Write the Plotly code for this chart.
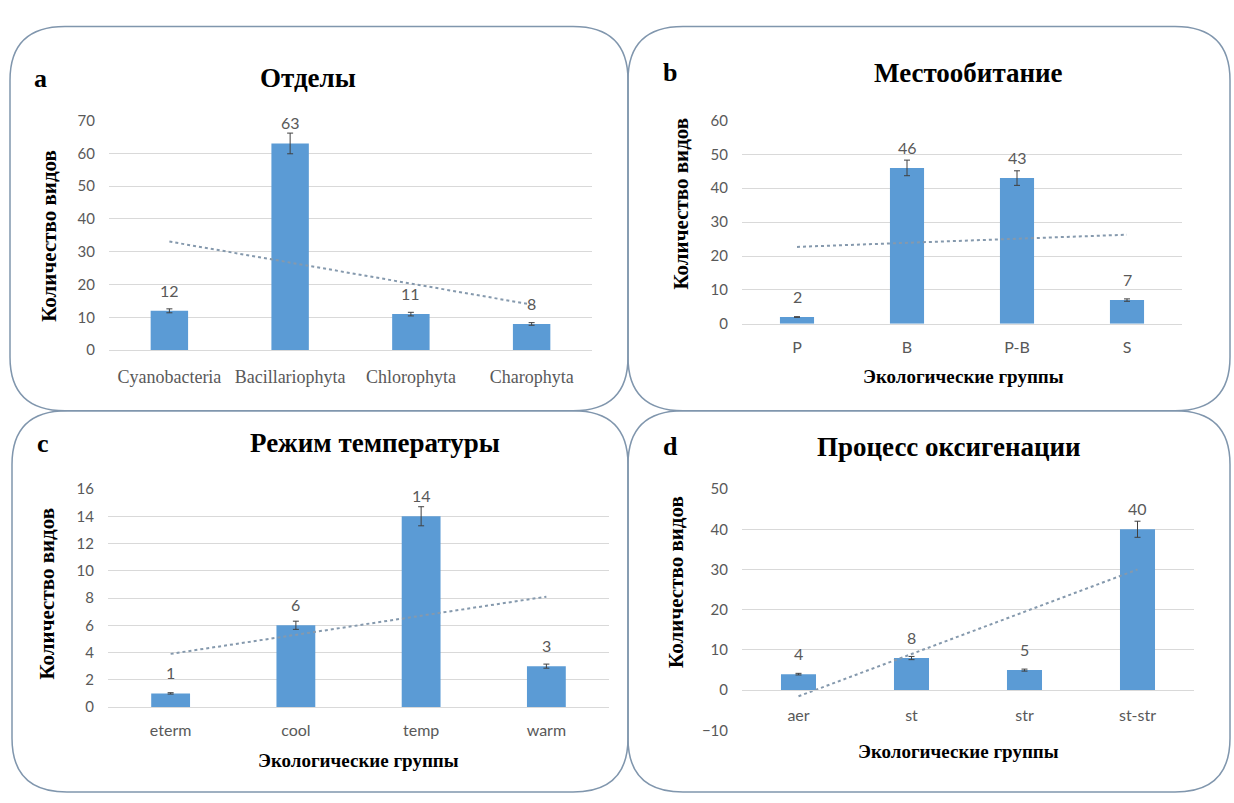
import numpy as np
import plotly.graph_objects as go

# ---------------- data ----------------
cats_a = ["Cyanobacteria", "Bacillariophyta", "Chlorophyta", "Charophyta"]
vals_a = [12, 63, 11, 8]
cats_b = ["P", "B", "P-B", "S"]
vals_b = [2, 46, 43, 7]
cats_c = ["eterm", "cool", "temp", "warm"]
vals_c = [1, 6, 14, 3]
cats_d = ["aer", "st", "str", "st-str"]
vals_d = [4, 8, 5, 40]

titles = ["Отделы", "Местообитание", "Режим температуры", "Процесс оксигенации"]
letters = ["a", "b", "c", "d"]
ytitle = "Количество видов"
xtitle = "Экологические группы"

yticks_a = [0, 10, 20, 30, 40, 50, 60, 70]
yticks_b = [0, 10, 20, 30, 40, 50, 60]
yticks_c = [0, 2, 4, 6, 8, 10, 12, 14, 16]
yticks_d = [-10, 0, 10, 20, 30, 40, 50]
error_percent = 5

# ---------------- geometry helpers ----------------
W, H = 1234, 803
def X(px):
    return px / W
def Y(py):
    return 1 - py / H

BAR = "#5b9bd5"
GRID = "#d9d9d9"
GRAY = "#595959"
SERIF = "Liberation Serif"
SANS = "Lato"

panels = [
    dict(cats=cats_a, vals=vals_a, ticks=yticks_a, px=(109, 592), py=(113, 348),
         box=(10, 17, 628, 410), title_xy=(308, 70), letter_xy=(40, 70),
         ytitle_xy=(49, 231), xtitle_xy=None, xfont=dict(family=SERIF, size=18, color=GRAY),
         xstand=10),
    dict(cats=cats_b, vals=vals_b, ticks=yticks_b, px=(742, 1182), py=(113, 321),
         box=(628, 17, 1230, 410), title_xy=(968, 64), letter_xy=(670, 64),
         ytitle_xy=(681, 198), xtitle_xy=(963, 375), xfont=dict(family=SANS, size=16, color=GRAY),
         xstand=9),
    dict(cats=cats_c, vals=vals_c, ticks=yticks_c, px=(108, 609), py=(490, 713),
         box=(12, 410, 628, 800), title_xy=(375, 443), letter_xy=(43, 443),
         ytitle_xy=(47, 597), xtitle_xy=(358, 768), xfont=dict(family=SANS, size=16, color=GRAY),
         xstand=9),
    dict(cats=cats_d, vals=vals_d, ticks=yticks_d, px=(742, 1194), py=(490, 737),
         box=(628, 410, 1230, 800), title_xy=(949, 447), letter_xy=(670, 447),
         ytitle_xy=(676, 585), xtitle_xy=(958, 758), xfont=dict(family=SANS, size=16, color=GRAY),
         xstand=11),
]

fig = go.Figure()
layout = dict(width=W, height=H, margin=dict(l=0, r=0, t=0, b=0),
              paper_bgcolor="white", plot_bgcolor="white", showlegend=False,
              bargap=0.68)
annotations = []
shapes = []

def rounded_rect(x0, y0, x1, y1, r=55):
    rx, ry = r / W, r / H
    a0, a1 = X(x0), X(x1)
    b0, b1 = Y(y1), Y(y0)  # bottom, top in paper
    return (f"M {a0+rx},{b1} L {a1-rx},{b1} Q {a1},{b1} {a1},{b1-ry} "
            f"L {a1},{b0+ry} Q {a1},{b0} {a1-rx},{b0} "
            f"L {a0+rx},{b0} Q {a0},{b0} {a0},{b0+ry} "
            f"L {a0},{b1-ry} Q {a0},{b1} {a0+rx},{b1} Z")

for i, p in enumerate(panels, start=1):
    sfx = "" if i == 1 else str(i)
    xa, ya = "x" + sfx, "y" + sfx
    cats, vals = p["cats"], p["vals"]
    idx = np.arange(len(vals))
    coef = np.polyfit(idx, vals, 1)
    trend = np.polyval(coef, idx)

    fig.add_trace(go.Bar(x=cats, y=vals, xaxis=xa, yaxis=ya, marker_color=BAR,
                         marker_line_width=0, width=0.31,
                         error_y=dict(type="percent", value=error_percent,
                                      color="#404040", thickness=1, width=3),
                         hoverinfo="x+y"))
    fig.add_trace(go.Scatter(x=cats, y=trend, xaxis=xa, yaxis=ya, mode="lines",
                             line=dict(color="#8599ad", dash="dot", width=2),
                             hoverinfo="skip"))

    ymin, ymax = p["ticks"][0], p["ticks"][-1]
    xdict = dict(domain=[X(p["px"][0]), X(p["px"][1])], type="category",
                 range=[-0.5, len(cats) - 0.5], showgrid=False, showline=True,
                 linecolor=GRID, linewidth=1, ticks="", tickfont=p["xfont"],
                 ticklabelstandoff=p["xstand"], fixedrange=True)
    if ymin < 0:
        xdict.update(anchor="free", position=Y(p["py"][0] + (p["py"][1] - p["py"][0]) * ymax / (ymax - ymin)))
    else:
        xdict.update(anchor=ya)
    layout["xaxis" + sfx] = xdict
    layout["yaxis" + sfx] = dict(domain=[Y(p["py"][1]), Y(p["py"][0])], anchor=xa,
                                 range=[ymin, ymax], tickvals=p["ticks"],
                                 showgrid=True, gridcolor=GRID, gridwidth=1,
                                 zeroline=False, showline=False, ticks="",
                                 tickfont=dict(family=SANS, size=15, color=GRAY),
                                 ticklabelstandoff=13, fixedrange=True)

    # data labels
    for c, v in zip(cats, vals):
        annotations.append(dict(x=c, y=v, xref=xa, yref=ya, text=str(v), showarrow=False,
                                yanchor="bottom", yshift=9,
                                font=dict(family=SANS, size=16, color=GRAY)))
    # title, letter
    annotations.append(dict(x=X(p["title_xy"][0]), y=Y(p["title_xy"][1]), xref="paper", yref="paper",
                            text=f"<b>{titles[i-1]}</b>", showarrow=False,
                            xanchor="center", yanchor="middle",
                            font=dict(family=SERIF, size=27, color="black")))
    annotations.append(dict(x=X(p["letter_xy"][0]), y=Y(p["letter_xy"][1]), xref="paper", yref="paper",
                            text=f"<b>{letters[i-1]}</b>", showarrow=False,
                            xanchor="center", yanchor="middle",
                            font=dict(family=SERIF, size=26, color="black")))
    annotations.append(dict(x=X(p["ytitle_xy"][0]), y=Y(p["ytitle_xy"][1]), xref="paper", yref="paper",
                            text=f"<b>{ytitle}</b>", showarrow=False, textangle=-90,
                            xanchor="center", yanchor="middle",
                            font=dict(family=SERIF, size=21, color="black")))
    if p["xtitle_xy"] is not None:
        annotations.append(dict(x=X(p["xtitle_xy"][0]), y=Y(p["xtitle_xy"][1]), xref="paper", yref="paper",
                                text=f"<b>{xtitle}</b>", showarrow=False,
                                xanchor="center", yanchor="middle",
                                font=dict(family=SERIF, size=19, color="black")))
    x0, y0, x1, y1 = p["box"]
    shapes.append(dict(type="path", path=rounded_rect(x0, y0, x1, y1), xref="paper", yref="paper",
                       line=dict(color="#8096ad", width=1.5), fillcolor="rgba(0,0,0,0)", layer="below"))

layout["annotations"] = annotations
layout["shapes"] = shapes
fig.update_layout(**layout)
fig.write_html("out.html")
